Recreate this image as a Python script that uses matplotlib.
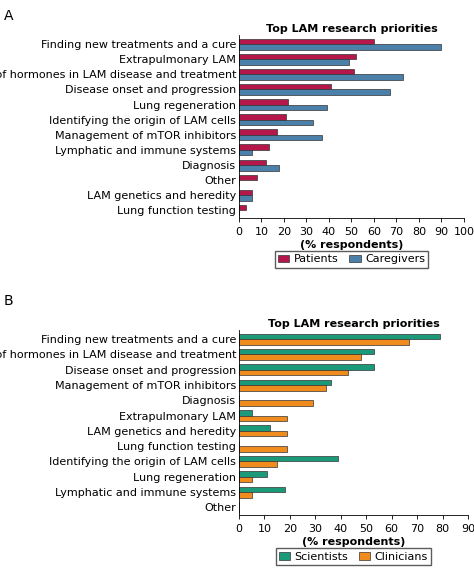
import matplotlib.pyplot as plt
import numpy as np

cats_a = ["Finding new treatments and a cure", "Extrapulmonary LAM",
          "Role of hormones in LAM disease and treatment", "Disease onset and progression",
          "Lung regeneration", "Identifying the origin of LAM cells",
          "Management of mTOR inhibitors", "Lymphatic and immune systems",
          "Diagnosis", "Other", "LAM genetics and heredity", "Lung function testing"]
patients = [60, 52, 51, 41, 22, 21, 17, 13.5, 12, 8, 6, 3]
caregivers = [90, 49, 73, 67, 39, 33, 37, 6, 18, 0, 6, 0]

cats_b = ["Finding new treatments and a cure", "Role of hormones in LAM disease and treatment",
          "Disease onset and progression", "Management of mTOR inhibitors", "Diagnosis",
          "Extrapulmonary LAM", "LAM genetics and heredity", "Lung function testing",
          "Identifying the origin of LAM cells", "Lung regeneration",
          "Lymphatic and immune systems", "Other"]
scientists = [79, 53, 53, 36, 0, 5, 12, 0, 39, 11, 18, 0]
clinicians = [67, 48, 43, 34, 29, 19, 19, 19, 15, 5, 5, 0]

fig = plt.figure(figsize=(4.74, 5.76), dpi=100)
ax1 = fig.add_axes([239/474, 1-218/576, 225/474, 183/576])
ax2 = fig.add_axes([239/474, 1-515/576, 229/474, 185/576])

def draw(ax, cats, v1, v2, c1, c2, n1, n2, xmax):
    y = np.arange(len(cats))
    h = 0.36
    ax.barh(y - h/2, v1, h, color=c1, edgecolor="#333333", linewidth=0.5, label=n1)
    ax.barh(y + h/2, v2, h, color=c2, edgecolor="#333333", linewidth=0.5, label=n2)
    ax.set_yticks(y)
    ax.set_yticklabels(cats, fontsize=7.6)
    ax.set_ylim(len(cats) - 0.5, -0.6)
    ax.set_xlim(0, xmax)
    ax.set_xticks(range(0, xmax + 1, 10))
    ax.tick_params(labelsize=8, length=3, width=0.6)
    ax.tick_params(axis="y", length=0, pad=2)
    for s in ["top", "right"]:
        ax.spines[s].set_visible(False)
    ax.spines["left"].set_linewidth(0.6)
    ax.spines["bottom"].set_linewidth(0.6)
    ax.set_xlabel("(% respondents)", fontsize=8, fontweight="bold", labelpad=2)
    ax.set_title("Top LAM research priorities", fontsize=8, fontweight="bold", pad=2)
    ax.legend(loc="upper center", bbox_to_anchor=(0.5, -0.15), ncol=2, fontsize=8,
              frameon=True, fancybox=False, edgecolor="#333333", handlelength=1,
              handletextpad=0.4, columnspacing=1, borderpad=0.3)

draw(ax1, cats_a, patients, caregivers, "#b5174b", "#4a80aa", "Patients", "Caregivers", 100)
draw(ax2, cats_b, scientists, clinicians, "#1a9a78", "#f08c1e", "Scientists", "Clinicians", 90)

fig.text(0.008, 0.985, "A", fontsize=10, va="top")
fig.text(0.008, 0.49, "B", fontsize=10, va="top")
fig.savefig("out.png", dpi=100)
